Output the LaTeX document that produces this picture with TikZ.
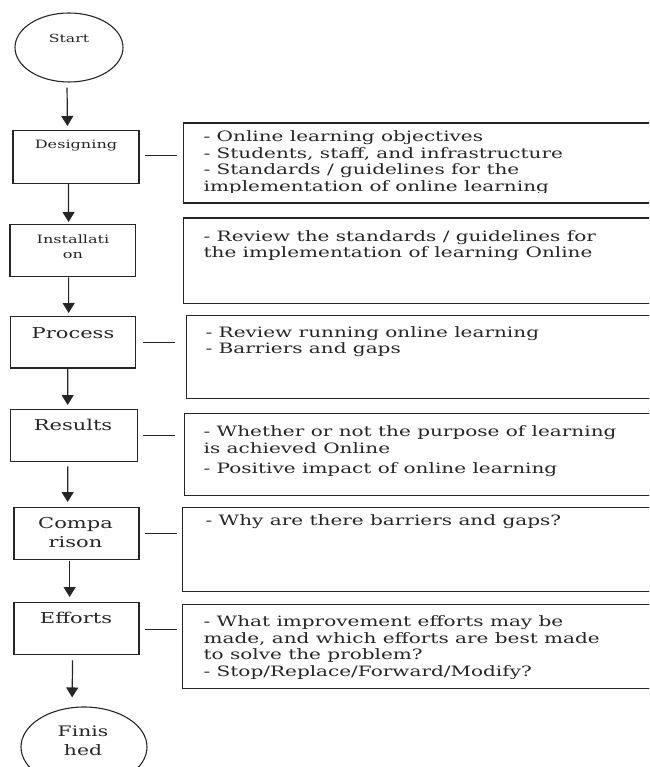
\documentclass[tikz,border=0pt]{standalone}
\usepackage{fontspec}
\setmainfont{DejaVu Serif}[FakeStretch=1.4]
\usetikzlibrary{arrows.meta,calc,shapes.geometric}
\newcommand{\lines}[1]{\begin{tabular}{@{}l@{}}#1\end{tabular}}
\newcommand{\clines}[1]{\begin{tabular}{@{}c@{}}#1\end{tabular}}
\begin{document}
\begin{tikzpicture}[x=1pt,y=-1pt, line width=1.2pt,
  lbox/.style={draw=black!85, line width=1.3pt, rectangle, inner sep=0pt, anchor=north west},
  rbox/.style={draw=black!85, line width=1.3pt, rectangle, inner sep=0pt, anchor=north west, minimum width=520pt},
  term/.style={draw=black!85, line width=1.1pt, ellipse, inner sep=0pt},
  rtext/.style={anchor=north west, inner sep=0pt, text=black!85, font=\fontsize{14.3}{16.7}\selectfont},
  ltext/.style={anchor=base, inner sep=0pt, text=black!85},
  mtext/.style={anchor=north, inner sep=0pt, text=black!85},
  flow/.style={draw=black!85, -{Triangle[width=12pt,length=10pt]}, line width=1.2pt},
  link/.style={draw=black!85, line width=1.2pt},
]
\path[use as bounding box] (0,0) rectangle (649,767);
\clip (0,0) rectangle (649,767);

% terminals
\node[term, minimum width=108pt, minimum height=69pt] (start) at (69,47.5) {};
\node[ltext, font=\fontsize{11.2}{13}\selectfont] (startT) at (69,43) {Start};
\node[term, minimum width=126pt, minimum height=80pt] (fin) at (84,747) {};
\node[mtext, font=\fontsize{14.5}{19}\selectfont] (finT) at (83,722.7) {\clines{Finis\\hed}};

% left boxes
\node[lbox, minimum width=126pt, minimum height=52.7pt] (des) at (12.3,130) {};
\node[ltext, font=\fontsize{11.5}{13}\selectfont] (desT) at (76,149) {Designing};
\node[lbox, minimum width=125.7pt, minimum height=52pt] (inst) at (9.3,224) {};
\node[mtext, font=\fontsize{11.5}{15}\selectfont] (instT) at (73,232.5) {\clines{Installati\\on}};
\node[lbox, minimum width=125pt, minimum height=51.3pt] (proc) at (10,316) {};
\node[ltext, font=\fontsize{15}{18}\selectfont] (procT) at (73,338) {Process};
\node[lbox, minimum width=126.7pt, minimum height=52pt] (res) at (10,409) {};
\node[ltext, font=\fontsize{15}{18}\selectfont] (resT) at (73,430) {Results};
\node[lbox, minimum width=125pt, minimum height=52pt] (comp) at (13.3,507) {};
\node[mtext, font=\fontsize{15}{18.3}\selectfont] (compT) at (75.5,515.5) {\clines{Compa\\rison}};
\node[lbox, minimum width=125pt, minimum height=52pt] (eff) at (13.3,602) {};
\node[ltext, font=\fontsize{15}{18}\selectfont] (effT) at (76,623) {Efforts};

% right boxes
\node[rbox, minimum height=80pt] (rb1) at (183,122.3) {};
\node[rbox, minimum height=85.4pt] (rb2) at (183,217.3) {};
\node[rbox, minimum height=83pt] (rb3) at (186,315) {};
\node[rbox, minimum height=82pt] (rb4) at (184,413) {};
\node[rbox, minimum height=84pt] (rb5) at (182,507) {};
\node[rbox, minimum height=84pt] (rb6) at (182,604) {};

\begin{scope}
\clip (183,122.3) rectangle (700,192.6);
\node[rtext] (rb1T) at (203,129.3) {\lines{- Online learning objectives\\- Students, staff, and infrastructure\\- Standards / guidelines for the\\implementation of online learning}};
\end{scope}
\node[rtext] (rb2T) at (203,229) {\lines{- Review the standards / guidelines for\\the implementation of learning Online}};
\node[rtext] (rb3T) at (205,325) {\lines{- Review running online learning\\- Barriers and gaps}};
\node[rtext] (rb4T) at (203,424.3) {\lines{- Whether or not the purpose of learning\\is achieved Online\\[3.3pt]- Positive impact of online learning}};
\node[rtext] (rb5T) at (205,513.3) {\lines{- Why are there barriers and gaps?}};
\begin{scope}
\clip (182,604) rectangle (700,678);
\node[rtext] (rb6T) at (203,614.3) {\lines{- What improvement efforts may be\\made, and which efforts are best made\\to solve the problem?\\- Stop/Replace/Forward/Modify?}};
\end{scope}

% flow arrows
\draw[flow, shorten <=5pt, shorten >=4pt] ([xshift=-2pt]start.south) -- ([xshift=-8.5pt]des.north);
\draw[flow, shorten >=2pt] ([xshift=-7.5pt]des.south) -- ([xshift=-4.2pt]inst.north);
\draw[flow, shorten >=3pt] ([xshift=-4.2pt]inst.south) -- ([xshift=-4.5pt]proc.north);
\draw[flow, shorten >=4pt] ([xshift=-5.5pt]proc.south) -- ([xshift=-6.35pt]res.north);
\draw[flow, shorten <=4pt, shorten >=5pt] ([xshift=-6.35pt]res.south) -- ([xshift=-8.8pt]comp.north);
\draw[flow, shorten <=1pt, shorten >=5pt] ([xshift=-6.8pt]comp.south) -- ([xshift=-6.8pt]eff.north);
\draw[flow, shorten <=5pt, shorten >=9pt] ([xshift=-3.8pt]eff.south) -- ([xshift=-12pt]fin.north);

% links
\draw[link, shorten <=5.5pt, shorten >=6pt] ([yshift=1.5pt]des.east) -- ([yshift=1.5pt]des.east -| rb1.west);
\draw[link, shorten <=7pt, shorten >=11pt] (proc.east) -- (proc.east -| rb3.west);
\draw[link, shorten <=5.3pt, shorten >=9pt] (res.east) -- (res.east -| rb4.west);
\draw[link, shorten <=5.7pt, shorten >=5pt] (comp.east) -- (comp.east -| rb5.west);
\draw[link, shorten <=5.7pt, shorten >=5pt] ([yshift=-1pt]eff.east) -- ([yshift=-1pt]eff.east -| rb6.west);
\end{tikzpicture}
\end{document}
